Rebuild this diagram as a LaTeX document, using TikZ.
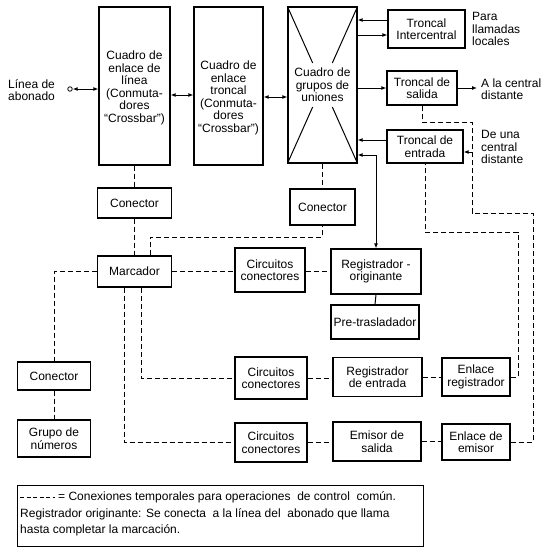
\documentclass[tikz,border=0pt]{standalone}
\usepackage{fontspec}
\setmainfont{Liberation Sans}
\usetikzlibrary{arrows.meta,calc}
\begin{document}
\begin{tikzpicture}[x=1pt,y=-1pt,
  box/.style={draw,line width=1.2pt,inner sep=0pt,align=center,font=\fontsize{12}{12.5}\selectfont},
  txt/.style={inner sep=0pt,align=center,font=\fontsize{12}{12.5}\selectfont},
  lbl/.style={inner sep=0pt,align=left,anchor=west,font=\fontsize{12}{12.5}\selectfont},
  dsh/.style={line width=1pt,dash pattern=on 5pt off 3pt},
  sol/.style={line width=1pt},
  arr/.style={sol,-{Latex[length=5pt,width=4pt]}},
  dbl/.style={sol,{Latex[length=5pt,width=4pt]}-{Latex[length=5pt,width=4pt]}}]
\useasboundingbox (0,0) rectangle (545,549);

% main switching frames
\node[box,minimum width=71pt,minimum height=158pt] (A) at (134.5,86) {};
\node[txt] (At) at (134.5,88) {Cuadro de\\enlace de\\línea\\(Conmuta-\\dores\\“Crossbar”)};
\node[box,minimum width=69pt,minimum height=158pt] (B) at (228.5,86) {};
\node[txt] (Bt) at (228.5,98) {Cuadro de\\enlace\\troncal\\(Conmuta-\\dores\\“Crossbar”)};
\node[box,minimum width=69pt,minimum height=156pt] (C) at (322.5,85) {Cuadro de\\grupos de\\uniones};
\draw[sol] (C.north west) -- ($(C.north west)!0.72!(C.center)$);
\draw[sol] (C.north east) -- ($(C.north east)!0.72!(C.center)$);
\draw[sol] (C.south west) -- ($(C.south west)!0.72!(C.center)$);
\draw[sol] (C.south east) -- ($(C.south east)!0.72!(C.center)$);

% trunks
\node[box,minimum width=77pt,minimum height=38pt] (TI) at (426.5,29) {Troncal\\Intercentral};
\node[box,minimum width=70pt,minimum height=34pt] (TS) at (422,88) {Troncal de\\salida};
\node[box,minimum width=76pt,minimum height=33pt] (TE) at (425,146.5) {Troncal de\\entrada};

% side labels
\node[lbl] (Lab) at (8,90) {Línea de\\abonado};
\node[lbl] (Lpara) at (472,29) {Para\\llamadas\\locales};
\node[lbl] (Lala) at (481,89) {A la central\\distante};
\node[lbl] (Ldeuna) at (481,147) {De una\\central\\distante};

% control boxes
\node[box,minimum width=74pt,minimum height=30pt] (Con1) at (134.5,203) {Conector};
\node[box,minimum width=65pt,minimum height=36pt] (Con2) at (322.5,207) {Conector};
\node[box,minimum width=74pt,minimum height=31pt] (Marc) at (134.5,271.5) {Marcador};
\node[box,minimum width=70pt,minimum height=44pt] (Circ1) at (270,270) {Circuitos\\conectores};
\node[box,minimum width=90pt,minimum height=45pt] (RegO) at (376,271.5) {Registrador -\\originante};
\node[box,minimum width=88pt,minimum height=34pt] (Pre) at (375,322) {Pre-trasladador};
\node[box,minimum width=73pt,minimum height=28pt] (Con3) at (54,376) {Conector};
\node[box,minimum width=73pt,minimum height=37pt] (Grupo) at (54,438.5) {Grupo de\\números};
\node[box,minimum width=72pt,minimum height=42pt] (Circ2) at (271,378) {Circuitos\\conectores};
\node[box,minimum width=89pt,minimum height=39pt] (RegE) at (377.5,377) {Registrador\\de entrada};
\node[box,minimum width=68pt,minimum height=38pt] (EnlR) at (476,377) {Enlace\\registrador};
\node[box,minimum width=72pt,minimum height=39pt] (Circ3) at (271,442.5) {Circuitos\\conectores};
\node[box,minimum width=88pt,minimum height=39pt] (EmS) at (377,441.5) {Emisor de\\salida};
\node[box,minimum width=68pt,minimum height=36pt] (EnlE) at (476,442) {Enlace de\\emisor};

% helper coordinates
\node[draw,circle,minimum size=4.5pt,inner sep=0pt,line width=0.8pt] (circ) at (70,89) {};
\coordinate (r95) at (0,95);
\coordinate (r97) at (0,97);
\coordinate (r20) at (0,20);
\coordinate (r35) at (0,35);
\coordinate (r140) at (0,140);
\coordinate (r155) at (0,155);
\coordinate (ala) at (477,88);
\coordinate (deuna) at (473,152);
\coordinate (r237) at (0,237);
\coordinate (m1) at ($(Marc.north)+(16,0)$);
\coordinate (m2) at ($(Marc.south)+(7,0)$);
\coordinate (m3) at ($(Marc.south)+(-10,0)$);
\coordinate (k1) at (518,232);
\coordinate (k2) at (533,213);
\coordinate (k3) at (472,122);

% speech path arrows
\draw[dbl] (circ) -- (A.west |- circ);
\draw[dbl] (A.east |- r95) -- (B.west |- r95);
\draw[dbl] (B.east |- r97) -- (C.west |- r97);
\draw[arr] (TI.west |- r20) -- (C.east |- r20);
\draw[arr] (C.east |- r35) -- (TI.west |- r35);
\draw[arr] (C.east |- TS.west) -- (TS.west);
\draw[arr] (TS.east) -- (ala);
\draw[arr] (TE.west |- r140) -- (C.east |- r140);
\draw[arr] (deuna) -- (TE.east |- deuna);
\draw[dbl] (C.east |- r155) -| (RegO.north);
\draw[sol] (RegO.south) -- (Pre.north);

% temporary control connections
\draw[dsh] (A.south) -- (Con1.north);
\draw[dsh] (Con1.south) -- (Marc.north);
\draw[dsh] (C.south) -- (Con2.north);
\draw[dsh] (m1) -- (m1 |- r237) -| (Con2.south);
\draw[dsh] (Marc.east) -- (Circ1.west |- Marc.east);
\draw[dsh] (Circ1.east |- RegO.west) -- (RegO.west);
\draw[dsh] (Marc.west) -| (Con3.north);
\draw[dsh] (Con3.south) -- (Grupo.north);
\draw[dsh] (m2) |- (Circ2.west);
\draw[dsh] (m3) |- (Circ3.west);
\draw[dsh] (Circ2.east) -- (RegE.west |- Circ2.east);
\draw[dsh] (RegE.east) -- (EnlR.west);
\draw[dsh] (Circ3.east) -- (EmS.west |- Circ3.east);
\draw[dsh] (EmS.east) -- (EnlE.west |- EmS.east);
\draw[dsh] (EnlR.east) -| (k1) -| (TE.south);
\draw[dsh] (EnlE.east) -| (k2) -| (k3) -| (TS.south);

% legend
\node[draw,line width=1pt,minimum width=406pt,minimum height=61pt,inner sep=0pt] (leg) at (220,515.5) {};
\coordinate (lg1) at (20,497);
\coordinate (lg2) at (55,497);
\draw[dsh,dash pattern=on 4pt off 2.5pt] (lg1) -- (lg2);
\node[lbl] (leg1) at (58,497) {= Conexiones temporales para operaciones \ de control \ común.};
\node[lbl] (leg2) at (20,514) {Registrador originante: Se conecta \ a la línea del \ abonado que llama};
\node[lbl] (leg3) at (20,530) {hasta completar la marcación.};
\end{tikzpicture}
\end{document}
